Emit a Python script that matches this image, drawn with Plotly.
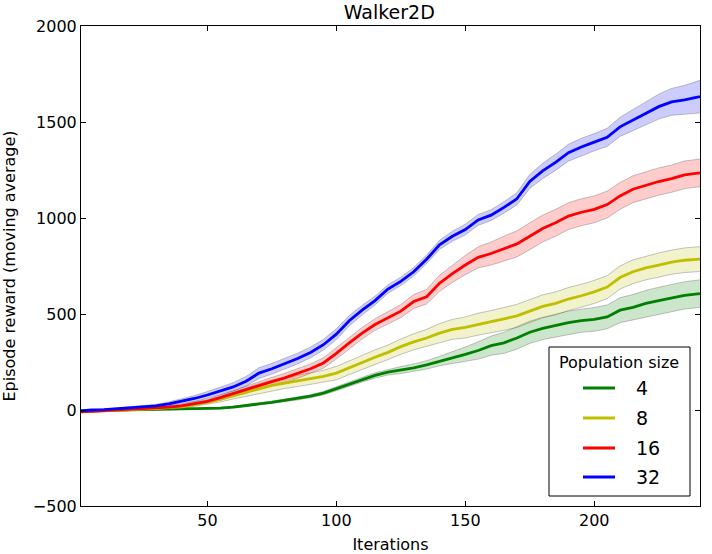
import plotly.graph_objects as go

iterations = [1, 5, 10, 15, 20, 25, 30, 35, 40, 45, 50, 55, 60, 65, 70, 75, 80, 85, 90, 95,
              100, 105, 110, 115, 120, 125, 130, 135, 140, 145, 150, 155, 160, 165, 170, 175,
              180, 185, 190, 195, 200, 205, 210, 215, 220, 225, 230, 235, 241]

pop4_mean = [-5, -4, -3, -2, -1, 0, 1, 2, 3, 4, 6, 10, 15, 22, 32, 40, 50, 60, 72, 88,
             110, 135, 158, 180, 197, 208, 220, 235, 255, 272, 290, 310, 335, 350, 375, 405,
             425, 440, 455, 465, 472, 485, 520, 535, 555, 570, 585, 597, 606]
pop4_hw = [2, 2, 2, 2, 2, 2, 2, 2, 3, 3, 3, 4, 4, 5, 5, 6, 7, 8, 8, 9,
           10, 11, 12, 14, 15, 18, 20, 22, 25, 30, 38, 45, 50, 55, 58, 58,
           58, 60, 60, 60, 62, 62, 65, 66, 68, 69, 70, 71, 72]

pop8_mean = [-10, -8, -5, -2, 0, 3, 7, 12, 17, 28, 40, 56, 75, 93, 112, 128, 140, 152, 163, 175,
             192, 220, 250, 275, 300, 330, 355, 375, 400, 420, 430, 447, 460, 475, 490, 515,
             540, 555, 578, 595, 615, 640, 690, 720, 740, 755, 770, 780, 786]
pop8_hw = [3, 3, 4, 4, 5, 5, 6, 7, 8, 9, 10, 14, 18, 22, 25, 27, 28, 30, 30, 32,
           35, 36, 38, 38, 38, 40, 42, 45, 50, 52, 55, 57, 58, 60, 60, 60,
           60, 60, 60, 60, 60, 60, 60, 62, 62, 63, 63, 64, 65]

pop16_mean = [-10, -7, -5, -2, 2, 6, 10, 15, 22, 35, 45, 64, 85, 105, 130, 148, 167, 190, 215, 245,
              295, 350, 400, 445, 480, 515, 565, 590, 660, 710, 755, 795, 815, 840, 865, 905,
              945, 975, 1010, 1030, 1045, 1070, 1115, 1150, 1170, 1190, 1205, 1225, 1235]
pop16_hw = [3, 3, 4, 4, 5, 5, 6, 7, 8, 9, 10, 13, 16, 18, 20, 22, 24, 25, 25, 27,
            30, 30, 30, 30, 32, 34, 36, 38, 42, 46, 50, 55, 60, 65, 68, 70,
            70, 70, 70, 70, 70, 70, 70, 70, 70, 71, 71, 72, 72]

pop32_mean = [-5, 0, 2, 6, 10, 15, 21, 32, 45, 60, 78, 100, 120, 150, 192, 215, 240, 268, 300, 340,
              395, 465, 520, 570, 630, 670, 720, 785, 860, 905, 940, 990, 1015, 1055, 1100, 1190,
              1245, 1290, 1340, 1370, 1395, 1420, 1475, 1510, 1545, 1580, 1605, 1615, 1632]
pop32_hw = [3, 3, 4, 5, 6, 7, 8, 10, 12, 15, 18, 20, 22, 25, 28, 28, 28, 28, 28, 28,
            28, 27, 25, 23, 22, 22, 22, 22, 24, 26, 28, 28, 28, 30, 32, 36,
            40, 42, 44, 45, 45, 47, 50, 55, 60, 65, 70, 76, 85]

legend_title = "Population size"
series = [
    ("4", pop4_mean, pop4_hw, "#008000", "rgba(0,128,0,0.2)"),
    ("8", pop8_mean, pop8_hw, "#bfbf00", "rgba(191,191,0,0.2)"),
    ("16", pop16_mean, pop16_hw, "#ff0000", "rgba(255,0,0,0.2)"),
    ("32", pop32_mean, pop32_hw, "#0000ff", "rgba(0,0,255,0.2)"),
]

fig = go.Figure()
edge = "rgba(90,90,90,0.35)"
for name, mean, hw, col, fill in series:
    upper = [m + h for m, h in zip(mean, hw)]
    lower = [m - h for m, h in zip(mean, hw)]
    fig.add_trace(go.Scatter(x=iterations, y=upper, mode="lines",
                             line=dict(color=edge, width=1), showlegend=False,
                             hoverinfo="skip"))
    fig.add_trace(go.Scatter(x=iterations, y=lower, mode="lines", fill="tonexty",
                             fillcolor=fill, line=dict(color=edge, width=1),
                             showlegend=False, hoverinfo="skip"))
for name, mean, hw, col, fill in series:
    fig.add_trace(go.Scatter(x=iterations, y=mean, mode="lines", name=name,
                             line=dict(color=col, width=2.8), showlegend=False))

font = "DejaVu Sans"
axis_common = dict(showline=True, linecolor="black", linewidth=1, mirror="allticks",
                   ticks="inside", ticklen=5, tickcolor="black", showgrid=False,
                   zeroline=False, automargin=False,
                   tickfont=dict(family=font, size=16, color="black"))

# plot-area pixel frame (for the hand-drawn legend box)
L, R, T, B = 81.0, 700.0, 26.0, 506.0
def px(xp):
    return (xp - L) / (R - L)
def py(yp):
    return (B - yp) / (B - T)

shapes = [dict(type="rect", xref="paper", yref="paper", x0=px(549), x1=px(690),
               y0=py(496), y1=py(347), line=dict(color="black", width=1),
               fillcolor="white", layer="above")]
annotations = [dict(text=legend_title, xref="paper", yref="paper", x=px(619), y=py(362),
                    xanchor="center", yanchor="middle", showarrow=False,
                    font=dict(family=font, size=16, color="black"))]
row_y = [388, 418, 448, 477]
for (name, mean, hw, col, fill), ry in zip(series, row_y):
    shapes.append(dict(type="line", xref="paper", yref="paper", x0=px(583), x1=px(615),
                       y0=py(ry), y1=py(ry), line=dict(color=col, width=3), layer="above"))
    annotations.append(dict(text=name, xref="paper", yref="paper", x=px(634), y=py(ry),
                            xanchor="left", yanchor="middle", showarrow=False,
                            font=dict(family=font, size=19, color="black")))

fig.update_layout(
    width=712, height=554,
    margin=dict(l=81, r=12, t=26, b=48),
    paper_bgcolor="white", plot_bgcolor="white",
    title=dict(text="Walker2D", x=0.5467, xanchor="center", y=0.978, yanchor="middle",
               font=dict(family=font, size=19, color="black")),
    xaxis=dict(range=[1, 241], tickvals=[50, 100, 150, 200],
               title=dict(text="Iterations", font=dict(family=font, size=16, color="black")),
               **axis_common),
    yaxis=dict(range=[-500, 2000], tickvals=[-500, 0, 500, 1000, 1500, 2000],
               ticktext=["\u2212500", "0", "500", "1000", "1500", "2000"],
               title=dict(text="Episode reward (moving average)",
                          font=dict(family=font, size=16, color="black")),
               **axis_common),
    shapes=shapes,
    annotations=annotations,
    showlegend=False,
)

fig.write_html("out.html", config={"displayModeBar": False},
               post_script="document.body.style.margin='0';")
